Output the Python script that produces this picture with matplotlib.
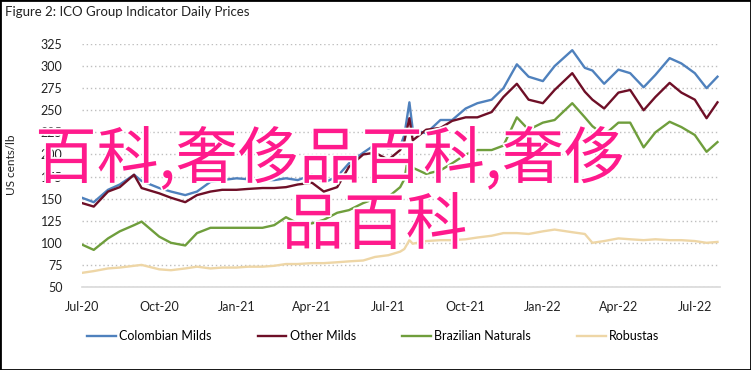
import pandas as pd
import matplotlib.pyplot as plt
import matplotlib.dates as mdates
import matplotlib.patheffects as pe
from matplotlib.patches import Rectangle

# Даты отсчётов (примерно раз в две недели)
dates = pd.to_datetime([
    "2020-07-01", "2020-07-15", "2020-08-01", "2020-08-15", "2020-09-01", "2020-09-10",
    "2020-10-01", "2020-10-15", "2020-11-01", "2020-11-15", "2020-12-01", "2020-12-15",
    "2021-01-01", "2021-01-15", "2021-02-01", "2021-02-15", "2021-03-01", "2021-03-15",
    "2021-04-01", "2021-04-15", "2021-05-01", "2021-05-15", "2021-06-01", "2021-06-15",
    "2021-07-01", "2021-07-15", "2021-07-20", "2021-07-26", "2021-07-30", "2021-08-15",
    "2021-09-01", "2021-09-15", "2021-10-01", "2021-10-15", "2021-11-01", "2021-11-15",
    "2021-12-01", "2021-12-15", "2022-01-01", "2022-01-15", "2022-02-05", "2022-02-20",
    "2022-03-01", "2022-03-15", "2022-04-01", "2022-04-15", "2022-05-01", "2022-05-15",
    "2022-06-01", "2022-06-15", "2022-07-01", "2022-07-15", "2022-07-28",
])

colombian = [151, 146, 160, 166, 177, 170, 162, 158, 154, 158, 169, 171,
             173, 172, 171, 171, 173, 171, 177, 168, 175, 190, 202, 211,
             207, 209, 222, 259, 228, 224, 239, 239, 252, 258, 262, 275,
             302, 288, 283, 300, 318, 298, 295, 280, 296, 292, 276, 290,
             309, 303, 292, 275, 288]
other_milds = [145, 141, 158, 163, 177, 162, 156, 151, 146, 154, 158, 160,
               160, 161, 162, 162, 163, 166, 168, 158, 163, 186, 200, 202,
               194, 205, 215, 241, 216, 228, 230, 238, 242, 242, 248, 265,
               280, 262, 258, 273, 292, 271, 262, 252, 270, 273, 250, 265,
               281, 270, 262, 241, 259]
brazilian = [98, 92, 105, 113, 120, 124, 107, 100, 97, 111, 117, 117,
             117, 117, 117, 120, 129, 122, 122, 126, 134, 137, 145, 150,
             152, 163, 172, 205, 185, 178, 182, 190, 200, 205, 205, 210,
             242, 228, 236, 239, 258, 242, 232, 222, 236, 236, 208, 225,
             237, 231, 222, 203, 214]
robustas = [66, 68, 71, 72, 74, 75, 70, 69, 71, 73, 71, 72,
            72, 73, 73, 74, 76, 76, 77, 77, 78, 79, 80, 84,
            86, 90, 93, 103, 99, 102, 103, 103, 104, 106, 108, 111,
            111, 110, 113, 115, 112, 110, 100, 102, 105, 104, 103, 104,
            103, 103, 102, 100, 101]

series_names = ["Colombian Milds", "Other Milds", "Brazilian Naturals", "Robustas"]
series_colors = ["#4F81BD", "#6E0F27", "#6F9E3C", "#EED6A6"]
y_ticks = [50, 75, 100, 125, 150, 175, 200, 225, 250, 275, 300, 325]
x_ticks = pd.to_datetime(["2020-07-01", "2020-10-01", "2021-01-01", "2021-04-01", "2021-07-01",
                          "2021-10-01", "2022-01-01", "2022-04-01", "2022-07-01"])

plt.rcParams['font.family'] = ['Lato', 'DejaVu Sans']

fig = plt.figure(figsize=(7.51, 3.70), dpi=100)
ax = fig.add_axes([82 / 751, 1 - 287 / 370, (720 - 82) / 751, (287 - 44) / 370])

values = [colombian, other_milds, brazilian, robustas]
for name, vals, col in zip(series_names, values, series_colors):
    ax.plot(dates, vals, color=col, lw=1.7, label=name)

ax.set_xlim(pd.Timestamp("2020-07-01"), pd.Timestamp("2022-07-31"))
ax.set_ylim(50, 325)
ax.set_yticks(y_ticks)
ax.set_xticks(x_ticks)
ax.xaxis.set_major_formatter(mdates.DateFormatter("%b-%y"))
ax.grid(axis='y', color='#BFBFBF', linestyle=(0, (1, 2)), lw=1)
ax.set_axisbelow(True)
for s in ['top', 'right', 'left']:
    ax.spines[s].set_visible(False)
ax.spines['bottom'].set_color('#D9D9D9')
ax.spines['bottom'].set_linewidth(1.2)
ax.tick_params(length=0, labelsize=9, colors='#222222')
ax.tick_params(axis='y', pad=14)
ax.tick_params(axis='x', pad=10)

fig.text(12 / 751, 1 - 165 / 370, "US cents/lb", rotation=90, va='center', ha='center',
         fontsize=8.5, color='#222222')
fig.text(5 / 751, 1 - 12 / 370, "Figure 2: ICO Group Indicator Daily Prices",
         va='center', ha='left', fontsize=9.5, color='#222222')

fig.legend(loc='center', bbox_to_anchor=(373 / 751, 1 - 336 / 370), ncol=4, frameon=False,
           fontsize=9, handlelength=2.3, handletextpad=0.25, columnspacing=3.7)

# Водяной знак
wm = dict(fontsize=44.5, color='#FF1A8C', weight='medium',
          family=['Noto Sans CJK SC', 'DejaVu Sans'],
          path_effects=[pe.withStroke(linewidth=2.5, foreground='white')], zorder=10)
fig.text(35 / 751, 1 - 160 / 370, "百科,奢侈品百科,奢侈", va='center', ha='left', **wm)
fig.text(282 / 751, 1 - 226 / 370, "品百科", va='center', ha='left', **wm)

fig.patches.append(Rectangle((0, 0), 1, 1, transform=fig.transFigure, fill=False,
                             edgecolor='black', lw=2))

fig.savefig("out.png", dpi=100)
